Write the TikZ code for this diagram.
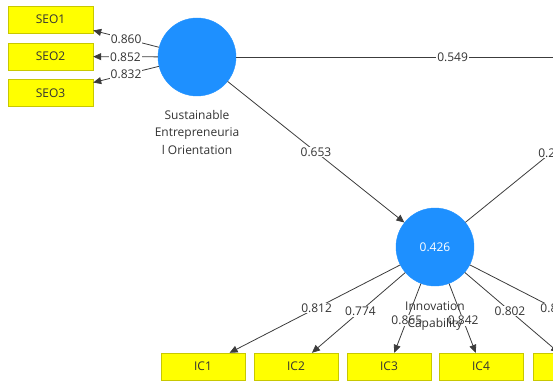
\documentclass[tikz,border=0pt]{standalone}
\usepackage{fontspec}
\setmainfont{Open Sans}
\usetikzlibrary{arrows.meta}
\definecolor{yellowfill}{HTML}{FFFF00}
\definecolor{yellowedge}{HTML}{C8C800}
\definecolor{lvblue}{HTML}{1E90FF}
\definecolor{txt}{HTML}{333333}
\definecolor{lineg}{HTML}{3C3C3C}
\begin{document}
\begin{tikzpicture}[x=1pt,y=-1pt,
  font=\fontsize{12}{17.5}\selectfont,
  ind/.style={draw=yellowedge, fill=yellowfill, minimum width=84pt, minimum height=27pt, inner sep=0pt, text=txt},
  lv/.style={circle, fill=lvblue, draw=lvblue, minimum size=78pt, inner sep=0pt},
  conn/.style={draw=lineg, line width=0.8pt},
  arr/.style={conn, -{Triangle[length=8pt,width=7pt]}},
  wl/.style={fill=white, inner sep=1pt, text=txt},
]
\useasboundingbox (0,0) rectangle (553,382);
\clip (0,0) rectangle (553,382);
% nodes
\node[ind, minimum width=85pt] (seo1) at (50.5,19.5) {SEO1};
\node[ind, minimum width=85pt] (seo2) at (50.5,56.5) {SEO2};
\node[ind, minimum width=85pt] (seo3) at (50.5,93) {SEO3};
\node[lv] (seo) at (197,57) {};
\node[lv, text=white] (ic) at (435,247) {0.426};
\coordinate (hid) at (669,57);
\node[ind] (ic1) at (203,366.5) {IC1};
\node[ind] (ic2) at (296,366.5) {IC2};
\node[ind] (ic3) at (389,366.5) {IC3};
\node[ind] (ic4) at (481,366.5) {IC4};
\node[ind] (ic5) at (575,366.5) {};
\coordinate (ic6) at (668,366.5);
% connectors
\draw[arr] (seo) -- node[wl]{0.860} (seo1);
\draw[arr] (seo) -- node[wl]{0.852} (seo2);
\draw[arr] (seo) -- node[wl]{0.832} (seo3);
\draw[arr] (seo) -- node[wl]{0.549} (hid);
\draw[arr] (seo) -- node[wl]{0.653} (ic);
\draw[arr] (ic) -- node[wl, pos=0.42, anchor=west, xshift=-14pt]{0.2} (hid);
\draw[arr] (ic) -- node[wl, pos=0.49]{0.812} (ic1);
\draw[arr] (ic) -- node[wl, pos=0.48]{0.774} (ic2);
\draw[arr] (ic) -- node[wl, pos=0.53]{0.865} (ic3);
\draw[arr] (ic) -- node[wl, pos=0.53]{0.842} (ic4);
\draw[arr] (ic) -- node[wl, pos=0.48]{0.802} (ic5);
\draw[arr] (ic) -- node[wl, pos=0.43, anchor=west, xshift=-16pt]{0.8} (ic6);
% construct labels
\node[align=center, text=txt] (seolab) at (197,132) {Sustainable\\Entrepreneuria\\l Orientation};
\node[align=center, text=txt] (iclab) at (435,316) {Innovation\\Capability};
\end{tikzpicture}
\end{document}
